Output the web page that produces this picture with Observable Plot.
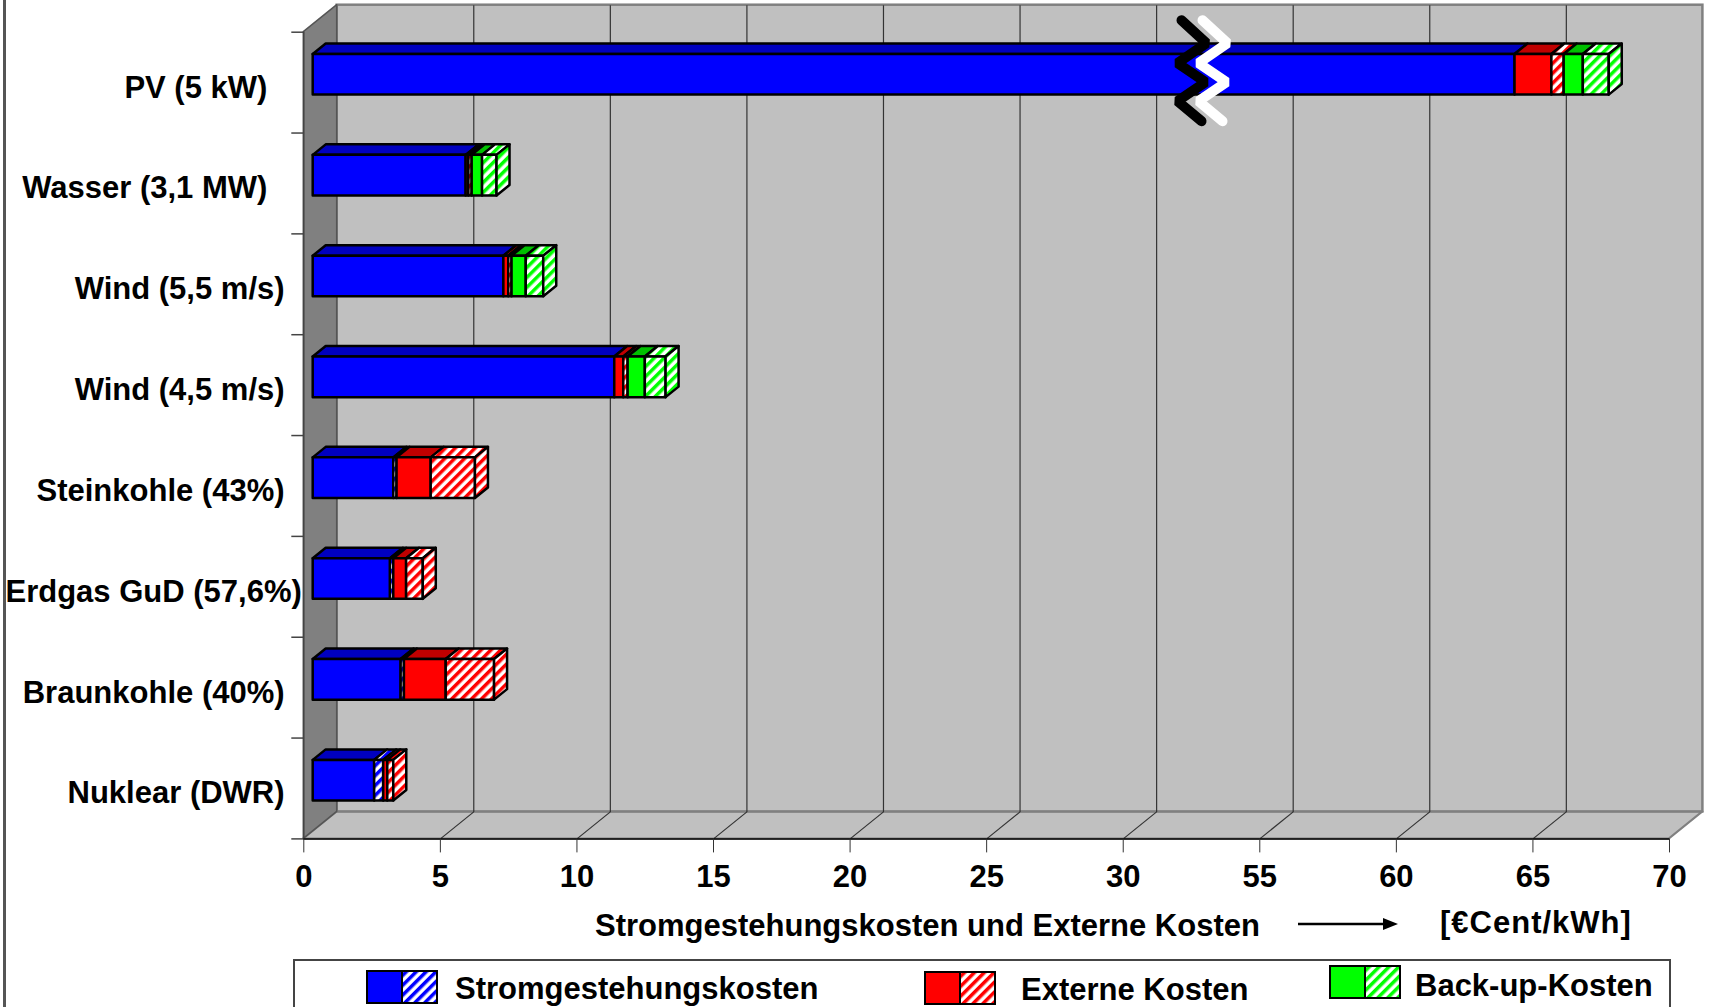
<!DOCTYPE html>
<html>
<head>
<meta charset="utf-8">
<script src="https://cdn.jsdelivr.net/npm/d3@7"></script>
<script src="https://cdn.jsdelivr.net/npm/@observablehq/plot@0.6"></script>
<style>
  html, body { margin: 0; padding: 0; background: #ffffff; }
  #wrap { position: relative; width: 1711px; height: 1007px; overflow: hidden; background: #ffffff;
          font-family: "Liberation Sans", Arial, sans-serif; font-weight: bold; color: #000; }
  #chart { position: absolute; left: 0; top: 0; }
  #chart svg text { white-space: pre; }
  .txt { position: absolute; font-size: 31px; line-height: 31px; white-space: nowrap; }
  #frameLeft { position: absolute; left: 3px; top: 0; width: 3px; height: 1007px; background: #555; }
  #legendBox { position: absolute; left: 293px; top: 959px; width: 1378px; height: 90px;
               border: 2px solid #444; box-sizing: border-box; background: #fff; }
  .sw { position: absolute; }
  #defs { position: absolute; width: 0; height: 0; overflow: hidden; }
</style>
</head>
<body>
<div id="wrap">
  <svg id="defs" width="0" height="0">
    <defs>
      <pattern id="hBlue" patternUnits="userSpaceOnUse" width="7" height="7" patternTransform="rotate(45)">
        <rect width="7" height="7" fill="#ffffff"></rect><rect width="3.5" height="7" fill="#0000ff"></rect>
      </pattern>
      <pattern id="hRed" patternUnits="userSpaceOnUse" width="7" height="7" patternTransform="rotate(45)">
        <rect width="7" height="7" fill="#ffffff"></rect><rect width="3.5" height="7" fill="#ff0000"></rect>
      </pattern>
      <pattern id="hGreen" patternUnits="userSpaceOnUse" width="7" height="7" patternTransform="rotate(45)">
        <rect width="7" height="7" fill="#ffffff"></rect><rect width="3.5" height="7" fill="#00ff00"></rect>
      </pattern>
    </defs>
  </svg>
  <div id="frameLeft"></div>
  <div id="chart"></div>
  <div id="axisTitle"></div>
  <div id="legendBox"></div>
  <div id="legendItems"></div>
</div>
<script>
// ---------------- data (€Cent/kWh) ----------------
// category names keep the trailing blanks of the original labels
const categories = ["PV (5 kW)    ", "Wasser (3,1 MW)    ", "Wind (5,5 m/s)  ", "Wind (4,5 m/s)  ",
                    "Steinkohle (43%)  ", "Erdgas GuD (57,6%)", "Braunkohle (40%)  ", "Nuklear (DWR)  "];
const stromSolid    = [64.0, 5.60, 6.98, 11.04, 2.95, 2.83, 3.22, 2.25];
const stromHatched  = [0.00, 0.00, 0.00, 0.00, 0.12, 0.12, 0.12, 0.33];
const externSolid   = [1.35, 0.10, 0.18, 0.33, 1.25, 0.47, 1.53, 0.15];
const externHatched = [0.45, 0.12, 0.12, 0.16, 1.62, 0.61, 1.77, 0.22];
const backupSolid   = [0.70, 0.38, 0.52, 0.63, 0.00, 0.00, 0.00, 0.00];
const backupHatched = [0.95, 0.53, 0.64, 0.76, 0.00, 0.00, 0.00, 0.00];
const tickLabels = [0, 5, 10, 15, 20, 25, 30, 55, 60, 65, 70];
const axisBreak = [30, 55];           // value range compressed into one tick interval
const legendLabels = ["Stromgestehungskosten", "Externe Kosten", "Back-up-Kosten"];
const axisTitle = "Stromgestehungskosten und Externe Kosten";
const axisUnit = "[€Cent/kWh]";

// ---------------- layout ----------------
const W = 1711, H = 900;
const mL = 303.3, mR = W - 1669, mT = 31.7, mB = H - 838.4;

// broken axis: 30..55 squeezed into 5 display units
const brk = v => v <= axisBreak[0] ? v
  : v >= axisBreak[1] ? v - (axisBreak[1] - axisBreak[0] - 5)
  : axisBreak[0] + (v - axisBreak[0]) * 5 / (axisBreak[1] - axisBreak[0]);
const tickPos = tickLabels.map(brk);
const X_MAX = tickPos[tickPos.length - 1];
const NC = categories.length;

const pxX = (W - mL - mR) / X_MAX;
const pxY = (H - mT - mB) / NC;
const ux = p => p / pxX, uy = p => p / pxY;
const WALL = {dx: ux(33.4), dy: uy(-27)};
const FRONT = {dx: ux(9.4), dy: uy(-7.8)};
const DEPTH = {dx: ux(13), dy: uy(-10.5)};
const HALF = uy(20.3);

const kinds = [
  {values: stromSolid,    front: "#0000ff",      top: "#0000c0",      side: "#0000a0"},
  {values: stromHatched,  front: "url(#hBlue)",  top: "url(#hBlue)",  side: "url(#hBlue)"},
  {values: externSolid,   front: "#ff0000",      top: "#c00000",      side: "#a00000"},
  {values: externHatched, front: "url(#hRed)",   top: "url(#hRed)",   side: "url(#hRed)"},
  {values: backupSolid,   front: "#00ff00",      top: "#00c000",      side: "#00a000"},
  {values: backupHatched, front: "url(#hGreen)", top: "url(#hGreen)", side: "url(#hGreen)"}
];

// ---------------- build faces from data ----------------
const fronts = [], tops = [], sides = [];
let id = 0;
categories.forEach((c, i) => {
  let acc = 0, last = null;
  const yc = i + 0.5 + FRONT.dy;
  kinds.forEach((k, ki) => {
    const v = k.values[i];
    if (!(v > 0)) return;
    const a = brk(acc) + FRONT.dx, b = brk(acc + v) + FRONT.dx;
    acc += v;
    fronts.push({k: ki, x1: a, x2: b, y1: yc - HALF, y2: yc + HALF});
    tops.push({k: ki, id, y: yc - HALF, x1: a, x2: b});
    tops.push({k: ki, id, y: yc - HALF + DEPTH.dy, x1: a + DEPTH.dx, x2: b + DEPTH.dx});
    id++;
    last = {k: ki, b, yc};
  });
  if (last) {
    sides.push({k: last.k, id, x: last.b, y1: last.yc + HALF, y2: last.yc - HALF});
    sides.push({k: last.k, id, x: last.b + DEPTH.dx, y1: last.yc + HALF + DEPTH.dy, y2: last.yc - HALF + DEPTH.dy});
    id++;
  }
});

// break zigzag across the PV bar (decoration)
const breakX = brk((axisBreak[0] + axisBreak[1]) / 2);
const zigX = [-10, 15, -14, 14, -14, 10];
const zigY = [-12, 11, 31, 50, 69, 89];
const zig = (shift) => zigX.map((dx, j) => ({x: breakX + ux(dx + shift), y: uy(zigY[j])}));

const strokeBar = {stroke: "#000", strokeWidth: 2.5, strokeLinejoin: "round"};

const marks = [
  // floor
  Plot.areaX([{y: NC, x1: 0, x2: X_MAX}, {y: NC + WALL.dy, x1: WALL.dx, x2: X_MAX + WALL.dx}],
    {y: "y", x1: "x1", x2: "x2", fill: "#c0c0c0", stroke: "#808080", strokeWidth: 2}),
  // back wall
  Plot.rect([0], {x1: WALL.dx, x2: X_MAX + WALL.dx, y1: WALL.dy, y2: NC + WALL.dy,
    fill: "#c0c0c0", stroke: "#808080", strokeWidth: 2.5}),
  // left wall
  Plot.areaY([{x: 0, y1: NC, y2: 0}, {x: WALL.dx, y1: NC + WALL.dy, y2: WALL.dy}],
    {x: "x", y1: "y1", y2: "y2", fill: "#808080", stroke: "#555", strokeWidth: 1.5}),
  // gridlines on back wall and floor
  Plot.link(tickPos.slice(1, -1), {x1: d => d + WALL.dx, x2: d => d + WALL.dx, y1: WALL.dy, y2: NC + WALL.dy,
    stroke: "#333", strokeWidth: 1.2}),
  Plot.link(tickPos.slice(1, -1), {x1: d => d, x2: d => d + WALL.dx, y1: NC, y2: NC + WALL.dy,
    stroke: "#333", strokeWidth: 1.2}),
  // axes
  Plot.ruleX([0], {y1: 0, y2: NC, stroke: "#444", strokeWidth: 1.5}),
  Plot.axisY(d3.range(NC + 1), {tickSize: 12, tickFormat: () => "", stroke: "#444", strokeWidth: 1.5}),
  Plot.ruleY([NC], {stroke: "#000", strokeWidth: 1.5}),
  Plot.axisX(tickPos, {tickSize: 14, tickPadding: 12,
    tickFormat: d => String(tickLabels[tickPos.indexOf(d)]),
    fontSize: 31, fontWeight: "bold", stroke: "#333"}),
  // category labels
  Plot.text(categories, {x: 0, y: (d, i) => i + 0.5, text: d => d, textAnchor: "end", dx: -2, dy: 5,
    fontSize: 31, fontWeight: "bold", fill: "#000"}),
  // bars: top faces, front faces, side faces
  ...kinds.map((k, ki) => Plot.areaX(tops.filter(t => t.k === ki),
    {y: "y", x1: "x1", x2: "x2", z: "id", fill: k.top, ...strokeBar})),
  ...kinds.map((k, ki) => Plot.rect(fronts.filter(f => f.k === ki),
    {x1: "x1", x2: "x2", y1: "y1", y2: "y2", fill: k.front, ...strokeBar})),
  ...kinds.map((k, ki) => Plot.areaY(sides.filter(s => s.k === ki),
    {x: "x", y1: "y1", y2: "y2", z: "id", fill: k.side, ...strokeBar})),
  // axis break symbol
  Plot.line(zig(0), {x: "x", y: "y", stroke: "#000", strokeWidth: 10, strokeLinecap: "round", strokeLinejoin: "miter"}),
  Plot.line(zig(21), {x: "x", y: "y", stroke: "#fff", strokeWidth: 10, strokeLinecap: "round", strokeLinejoin: "miter"})
];

const chart = Plot.plot({
  width: W, height: H,
  marginLeft: mL, marginRight: mR, marginTop: mT, marginBottom: mB,
  x: {domain: [0, X_MAX]},
  y: {domain: [0, NC], range: [mT, H - mB]},
  style: {fontFamily: "'Liberation Sans', Arial, sans-serif", fontWeight: "bold", fontSize: "31px",
          color: "#000", background: "transparent", overflow: "visible"},
  marks
});
document.getElementById("chart").appendChild(chart);

// ---------------- axis title (below the plot) ----------------
const at = document.getElementById("axisTitle");
at.innerHTML =
  `<div class="txt" style="left:595px;top:910px">${axisTitle}</div>` +
  `<svg class="sw" style="left:1298px;top:914px" width="102" height="20">
     <line x1="0" y1="10" x2="88" y2="10" stroke="#000" stroke-width="2.5"></line>
     <polygon points="85,4 100,10 85,16" fill="#000"></polygon></svg>` +
  `<div class="txt" style="left:1440px;top:907px;letter-spacing:1px">${axisUnit}</div>`;

// ---------------- legend ----------------
const legendFills = [["#0000ff", "url(#hBlue)"], ["#ff0000", "url(#hRed)"], ["#00ff00", "url(#hGreen)"]];
const legendSw = [[366, 970], [924, 970.5], [1329, 965]];
const legendTx = [[455, 973], [1021, 973.5], [1415, 970]];
const li = document.getElementById("legendItems");
li.innerHTML = legendLabels.map((lab, j) =>
  `<svg class="sw" style="left:${legendSw[j][0]}px;top:${legendSw[j][1]}px" width="72" height="34">
     <rect x="1" y="1" width="35" height="32" fill="${legendFills[j][0]}" stroke="#000" stroke-width="2"></rect>
     <rect x="36" y="1" width="35" height="32" fill="${legendFills[j][1]}" stroke="#000" stroke-width="2"></rect>
   </svg>` +
  `<div class="txt" style="left:${legendTx[j][0]}px;top:${legendTx[j][1]}px">${lab}</div>`).join("");
</script>
</body>
</html>
